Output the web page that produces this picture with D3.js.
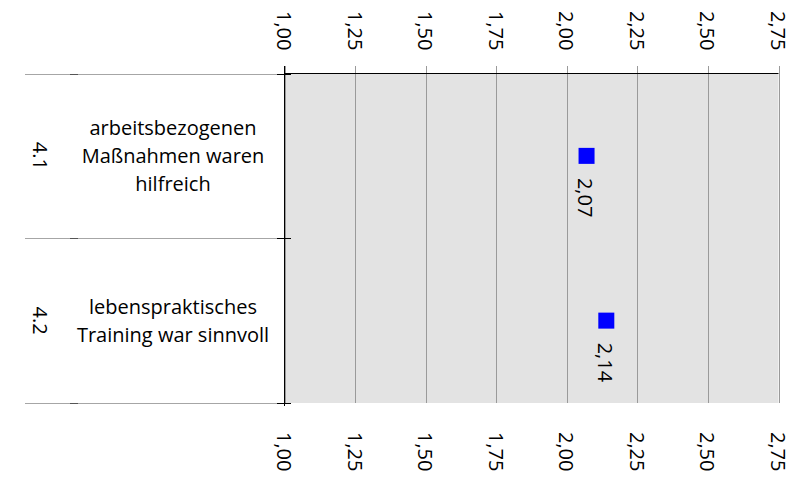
<!DOCTYPE html>
<html><head><meta charset="utf-8">
<script src="https://cdn.jsdelivr.net/npm/d3@7"></script>
<style>body{margin:0;background:#fff}svg{display:block;font-family:"Open Sans",sans-serif}</style>
</head><body><svg id="c" width="795" height="479"></svg>
<script>
const categories = ["4.1", "4.2"];
const labels = [["arbeitsbezogenen", "Maßnahmen waren", "hilfreich"], ["lebenspraktisches", "Training war sinnvoll"]];
const values = [2.07, 2.14];
const ticks = [1.00, 1.25, 1.50, 1.75, 2.00, 2.25, 2.50, 2.75];

(function () {
const svg = d3.select("#c");
const fmt = v => d3.format(".2f")(v).replace(".", ",");
const x = d3.scaleLinear().domain([1, 2.75]).range([284.5, 778.5]);
const y = d3.scaleBand().domain(categories).range([73.5, 403]);
const pTop = 73.5, pBot = 403;

svg.append("rect").attr("x", x(1)).attr("y", pTop).attr("width", x(2.75) - x(1)).attr("height", pBot - pTop).attr("fill", "#e3e3e3");
svg.selectAll(".g").data(ticks).join("line")
  .attr("x1", d => Math.round(x(d)) + 0.5).attr("x2", d => Math.round(x(d)) + 0.5)
  .attr("y1", 66).attr("y2", pBot).attr("stroke", "#9a9a9a").attr("stroke-width", 1);
svg.append("line").attr("x1", x(1)).attr("x2", x(2.75)).attr("y1", pTop).attr("y2", pTop).attr("stroke", "#000");
svg.append("line").attr("x1", x(1)).attr("x2", x(1)).attr("y1", 66).attr("y2", 406).attr("stroke", "#000");

const seps = [pTop, y("4.2"), pBot];
seps.forEach(v => {
  const yy = Math.round(v) + 0.5;
  svg.append("line").attr("x1", 25).attr("x2", 284).attr("y1", yy).attr("y2", yy).attr("stroke", "#a6a6a6");
  svg.append("line").attr("x1", 70).attr("x2", 78).attr("y1", yy).attr("y2", yy).attr("stroke", "#555");
  svg.append("line").attr("x1", 277).attr("x2", 291).attr("y1", yy).attr("y2", yy).attr("stroke", "#000");
});

[11, 432].forEach(yy => {
  svg.selectAll(null).data(ticks).join("text")
    .attr("transform", d => `translate(${x(d)},${yy}) rotate(90)`)
    .attr("dominant-baseline", "central").attr("text-anchor", "start")
    .attr("font-size", 20).attr("fill", "#000").text(fmt);
});

svg.selectAll(".code").data(categories).join("text")
  .attr("transform", d => `translate(40,${y(d) + y.bandwidth() / 2}) rotate(90)`)
  .attr("text-anchor", "middle").attr("dominant-baseline", "central")
  .attr("font-size", 20).text(d => d);

categories.forEach((c, i) => {
  const cy = y(c) + y.bandwidth() / 2;
  const n = labels[i].length;
  labels[i].forEach((t, j) => {
    svg.append("text").attr("x", 173).attr("y", cy + 7.5 + (j - (n - 1) / 2) * 28)
      .attr("text-anchor", "middle").attr("font-size", 20).text(t);
  });
});

svg.selectAll(".pt").data(values).join("rect")
  .attr("x", d => x(d) - 8).attr("y", (d, i) => y(categories[i]) + y.bandwidth() / 2 - 8)
  .attr("width", 16).attr("height", 16).attr("fill", "#0000ff");
svg.selectAll(".vl").data(values).join("text")
  .attr("transform", (d, i) => `translate(${x(d) - 1},${y(categories[i]) + y.bandwidth() / 2 + 22}) rotate(90)`)
  .attr("dominant-baseline", "central").attr("font-size", 20).text(fmt);
})();
</script></body></html>
